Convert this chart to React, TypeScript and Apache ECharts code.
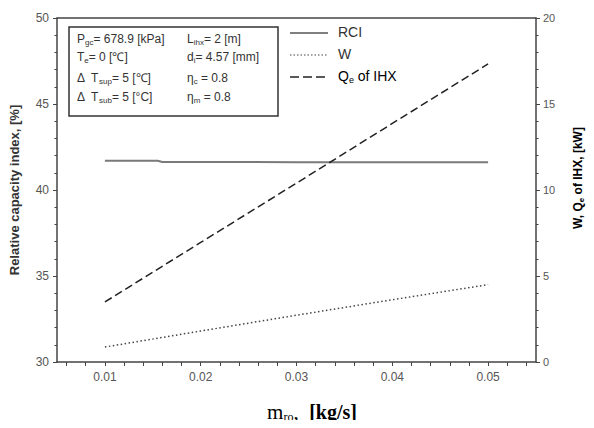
import React, { useEffect, useRef } from "react";
import * as echarts from "echarts";

const massFlow = [0.01, 0.02, 0.03, 0.04, 0.05];
const rciX = [0.01, 0.0155, 0.016, 0.02, 0.03, 0.04, 0.05];
const rciValues = [41.7, 41.7, 41.63, 41.63, 41.62, 41.62, 41.62];
const wValues = [0.87, 1.8, 2.72, 3.62, 4.5];
const qValues = [3.49, 6.95, 10.4, 13.87, 17.33];
const xLabelValues = [0.01, 0.02, 0.03, 0.04, 0.05];
const xTickValues = [
  0.006, 0.008, 0.01, 0.012, 0.014, 0.016, 0.018, 0.02, 0.022, 0.024, 0.026,
  0.028, 0.03, 0.032, 0.034, 0.036, 0.038, 0.04, 0.042, 0.044, 0.046, 0.048,
  0.05, 0.052, 0.054,
];

const FONT = "'Liberation Sans', Arial, sans-serif";
const SERIF = "'Liberation Serif', 'Times New Roman', serif";
const AX = "#444";
const X_MIN = 0.005;
const X_MAX = 0.055;

export default function App() {
  const ref = useRef<HTMLDivElement>(null);
  useEffect(() => {
    if (!ref.current) return;
    const chart = echarts.init(ref.current, undefined, { renderer: "svg" });
    const sub = { fontSize: 8, padding: [6, 0, 0, 0], fontFamily: FONT, color: "#333" };
    const boxRich = { n: { fontSize: 12, fontFamily: FONT, color: "#333", lineHeight: 14 }, s: sub };
    const boxLine = (x: number, y: number, t: string) => ({
      type: "text",
      left: x,
      top: y,
      style: { text: t, rich: boxRich, fontSize: 12, fontFamily: FONT, fill: "#333" },
    });
    const lineOnly = { show: true, lineStyle: { color: AX, width: 1.5 } };
    chart.setOption({
      animation: false,
      grid: { left: 57, right: 58, top: 18, bottom: 66 },
      xAxis: [
        {
          type: "value",
          min: X_MIN,
          max: X_MAX,
          position: "bottom",
          axisLine: lineOnly,
          axisTick: { show: true, length: 4, customValues: xTickValues },
          axisLabel: {
            customValues: xLabelValues,
            formatter: (v: number) => v.toFixed(2),
            color: "#555",
            fontSize: 12,
            fontFamily: FONT,
            margin: 9,
          },
          splitLine: { show: false },
        },
        {
          type: "value",
          min: X_MIN,
          max: X_MAX,
          position: "top",
          axisLine: lineOnly,
          axisTick: { show: false },
          axisLabel: { show: false },
          splitLine: { show: false },
        },
      ],
      yAxis: [
        {
          type: "value",
          min: 30,
          max: 50,
          interval: 5,
          position: "left",
          name: "Relative capacity index, [%]",
          nameLocation: "middle",
          nameGap: 36,
          nameRotate: 90,
          nameTextStyle: { fontSize: 13, fontWeight: "bold", color: "#333", fontFamily: FONT },
          axisLine: lineOnly,
          axisTick: { show: true, length: 4 },
          minorTick: { show: true, splitNumber: 5, length: 2.5 },
          axisLabel: { color: "#555", fontSize: 12, fontFamily: FONT, margin: 8 },
          splitLine: { show: false },
        },
        {
          type: "value",
          min: 0,
          max: 20,
          interval: 5,
          position: "right",
          axisLine: lineOnly,
          axisTick: { show: true, length: 4 },
          minorTick: { show: true, splitNumber: 5, length: 2.5 },
          axisLabel: { color: "#555", fontSize: 11, fontFamily: FONT, margin: 7 },
          splitLine: { show: false },
        },
      ],
      series: [
        {
          name: "RCI",
          type: "line",
          yAxisIndex: 0,
          data: rciX.map((x, i) => [x, rciValues[i]]),
          showSymbol: false,
          lineStyle: { color: "#7a7a7a", width: 2 },
        },
        {
          name: "W",
          type: "line",
          yAxisIndex: 1,
          data: massFlow.map((x, i) => [x, wValues[i]]),
          showSymbol: false,
          lineStyle: { color: "#444", width: 1.5, type: [1.5, 2.5] },
        },
        {
          name: "Q_e of IHX",
          type: "line",
          yAxisIndex: 1,
          data: massFlow.map((x, i) => [x, qValues[i]]),
          showSymbol: false,
          lineStyle: { color: "#222", width: 1.5, type: [8, 4] },
        },
      ],
      graphic: [
        {
          type: "rect",
          shape: { x: 69, y: 27, width: 209, height: 89 },
          style: { fill: "#fff", stroke: "#333", lineWidth: 1.5 },
          z: 10,
        },
        { ...boxLine(77, 33, "{n|P}{s|gc}{n|= 678.9 [kPa]}"), z: 11 },
        { ...boxLine(187, 33, "{n|L}{s|ihx}{n|= 2 [m]}"), z: 11 },
        { ...boxLine(77, 51, "{n|T}{s|e}{n|= 0 [℃]}"), z: 11 },
        { ...boxLine(187, 51, "{n|d}{s|i}{n|= 4.57 [mm]}"), z: 11 },
        { ...boxLine(77, 72, "{n|Δ  T}{s|sup}{n|= 5 [℃]}"), z: 11 },
        { ...boxLine(187, 72, "{n|η}{s|c}{n| = 0.8}"), z: 11 },
        { ...boxLine(77, 91, "{n|Δ  T}{s|sub}{n|= 5 [°C]}"), z: 11 },
        { ...boxLine(187, 91, "{n|η}{s|m}{n| = 0.8}"), z: 11 },
        {
          type: "line",
          shape: { x1: 290, y1: 33, x2: 328, y2: 33 },
          style: { stroke: "#555", lineWidth: 1.5 },
        },
        {
          type: "line",
          shape: { x1: 290, y1: 55, x2: 328, y2: 55 },
          style: { stroke: "#444", lineWidth: 1.2, lineDash: [1.5, 2] },
        },
        {
          type: "line",
          shape: { x1: 290, y1: 77, x2: 328, y2: 77 },
          style: { stroke: "#222", lineWidth: 1.5, lineDash: [9, 4] },
        },
        {
          type: "text",
          left: 338,
          top: 25,
          style: { text: "RCI", fontSize: 14, fontFamily: FONT, fill: "#333" },
        },
        {
          type: "text",
          left: 338,
          top: 47,
          style: { text: "W", fontSize: 14, fontFamily: FONT, fill: "#333" },
        },
        {
          type: "text",
          left: 338,
          top: 69,
          style: {
            text: "{a|Q}{b|e}{a| of IHX}",
            rich: {
              a: { fontSize: 14, fontFamily: FONT, color: "#333", lineHeight: 16 },
              b: { fontSize: 9, fontFamily: FONT, color: "#333", padding: [7, 0, 0, 0] },
            },
          },
        },
        {
          type: "text",
          x: 578,
          y: 178,
          rotation: Math.PI / 2,
          style: {
            text: "{a|W, Q}{b|e}{a| of IHX, [kW]}",
            align: "center",
            verticalAlign: "middle",
            rich: {
              a: { fontSize: 12, fontWeight: "bold", fontFamily: FONT, color: "#333", lineHeight: 14 },
              b: { fontSize: 8, fontWeight: "bold", fontFamily: FONT, color: "#333", padding: [6, 0, 0, 0] },
            },
          },
        },
        {
          type: "text",
          x: 312,
          y: 412,
          style: {
            text: "{m|m}{s|ro}{m|,  }{k|[kg/s]}",
            align: "center",
            verticalAlign: "middle",
            rich: {
              m: { fontSize: 21, fontFamily: SERIF, color: "#222", lineHeight: 22 },
              s: { fontSize: 12, fontFamily: SERIF, color: "#222", padding: [9, 0, 0, 0] },
              k: { fontSize: 20, fontWeight: "bold", fontFamily: SERIF, color: "#222", lineHeight: 22 },
            },
          },
        },
      ],
    });
    return () => chart.dispose();
  }, []);
  return <div ref={ref} style={{ width: 594, height: 428, margin: -8 }} />;
}
